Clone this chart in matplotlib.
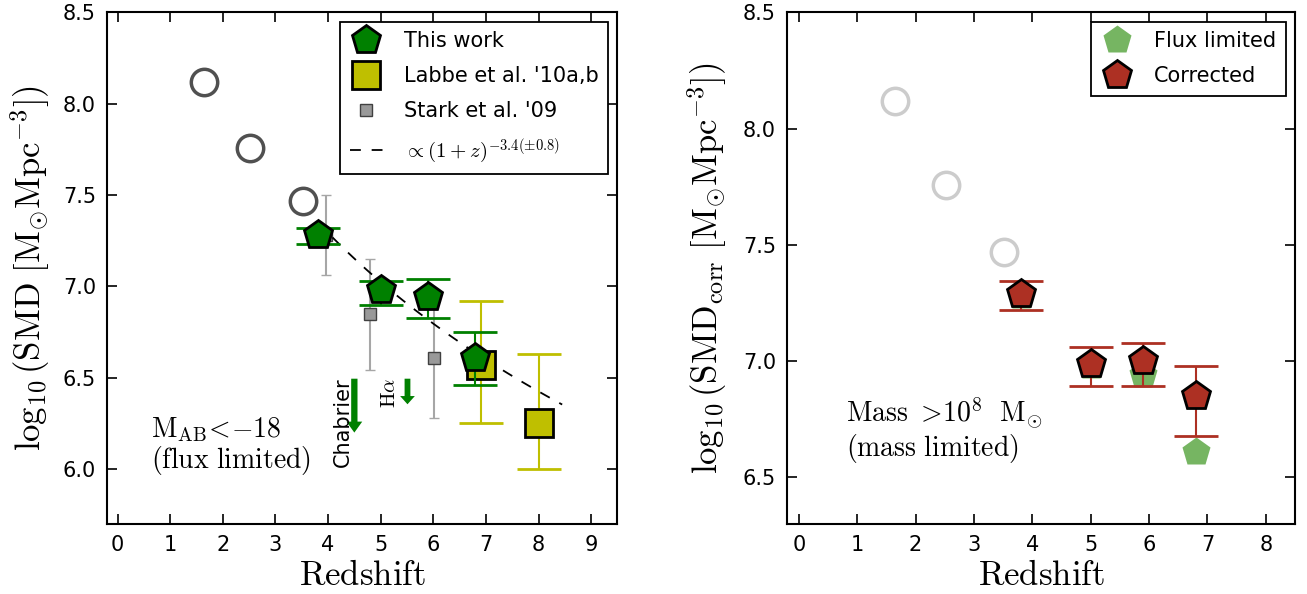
import numpy as np
import matplotlib
matplotlib.use("Agg")
import matplotlib.pyplot as plt
from matplotlib.lines import Line2D

plt.rcParams['mathtext.fontset'] = 'cm'
plt.rcParams['font.family'] = ['DejaVu Sans']

# open circles (lower-z literature)
lowz_z = [1.65, 2.52, 3.52]
lowz_smd = [8.12, 7.76, 7.47]

# this work (flux limited)
tw_z = [3.8, 5.0, 5.9, 6.8]
tw_smd = [7.28, 6.98, 6.94, 6.61]
tw_lo = [0.05, 0.08, 0.11, 0.15]
tw_hi = [0.04, 0.05, 0.10, 0.14]

# Labbe et al. '10a,b
lab_z = [6.9, 8.0]
lab_smd = [6.57, 6.25]
lab_lo = [0.32, 0.25]
lab_hi = [0.35, 0.38]

# Stark et al. '09
st_z = [3.97, 4.8, 6.02]
st_smd = [7.28, 6.85, 6.61]
st_lo = [0.22, 0.31, 0.33]
st_hi = [0.22, 0.30, 0.33]

# power-law fit  SMD ~ (1+z)^-3.4
fit_norm = 9.67
fit_slope = -3.4
fit_zrange = [3.8, 8.45]

# mass limited (corrected)
cor_z = [3.8, 5.0, 5.9, 6.8]
cor_smd = [7.29, 6.99, 7.0, 6.85]
cor_lo = [0.07, 0.095, 0.105, 0.17]
cor_hi = [0.055, 0.07, 0.08, 0.13]

green = '#008000'
yellow = '#bfbf00'
red = '#ad3023'
lgreen = '#76b562'

fig = plt.figure(figsize=(13.07, 5.94), dpi=100)
ax1 = fig.add_axes([0.0819, 0.118, 0.3905, 0.861])
ax2 = fig.add_axes([0.6022, 0.118, 0.3886, 0.861])

for ax in (ax1, ax2):
    ax.tick_params(direction='in', top=True, right=True, length=7, width=1.2,
                   labelsize=15, pad=8)
    for sp in ax.spines.values():
        sp.set_linewidth(1.5)

leg_kw = dict(loc='upper right', numpoints=1, fontsize=15, handlelength=1.6,
              borderaxespad=0.45, fancybox=False, edgecolor='k', framealpha=1,
              labelspacing=0.72, handletextpad=1.0, borderpad=0.45)

# ---- left panel ----
ax1.plot(lowz_z, lowz_smd, 'o', ms=19, mfc='none', mec='#505050', mew=2.5)
zz = np.linspace(fit_zrange[0], fit_zrange[1], 50)
ax1.plot(zz, fit_norm + fit_slope * np.log10(1 + zz), color='k', lw=1.3,
         dashes=(6, 6), zorder=4)
ax1.errorbar(st_z, st_smd, yerr=[st_lo, st_hi], fmt='s', ms=8, mfc='0.6',
             mec='0.25', mew=1, ecolor='0.65', elinewidth=1.5, capsize=3.5,
             capthick=1.5, zorder=3)
ax1.errorbar(lab_z, lab_smd, yerr=[lab_lo, lab_hi], fmt='s', ms=20, mfc=yellow,
             mec='k', mew=2, ecolor=yellow, elinewidth=1.5, capsize=16,
             capthick=2, zorder=5)
ax1.errorbar(tw_z, tw_smd, yerr=[tw_lo, tw_hi], fmt='p', ms=21, mfc=green,
             mec='k', mew=2, ecolor=green, elinewidth=1.5, capsize=16,
             capthick=2, zorder=6)

ax1.arrow(4.5, 6.495, 0, -0.295, width=0.12, head_width=0.3, head_length=0.06,
          length_includes_head=True, fc=green, ec='none')
ax1.arrow(5.51, 6.495, 0, -0.14, width=0.11, head_width=0.28, head_length=0.045,
          length_includes_head=True, fc=green, ec='none')
ax1.text(4.29, 6.5, 'Chabrier', rotation=90, ha='center', va='top', fontsize=15)
ax1.text(5.16, 6.5, r'$\mathrm{H}\alpha$', rotation=90, ha='center', va='top',
         fontsize=15)
ax1.text(0.63, 6.175, r'$\mathrm{M_{AB}}\!<\!{-18}$', fontsize=20, va='baseline')
ax1.text(0.63, 6.005, r'$\mathrm{(flux\ limited)}$', fontsize=20, va='baseline')

h1 = [Line2D([], [], ls='none', marker='p', ms=21, mfc=green, mec='k', mew=2),
      Line2D([], [], ls='none', marker='s', ms=20, mfc=yellow, mec='k', mew=2),
      Line2D([], [], ls='none', marker='s', ms=8, mfc='0.6', mec='0.25', mew=1),
      Line2D([], [], color='k', lw=1.3, dashes=(6, 6))]
l1 = ['This work', "Labbe et al. '10a,b", "Stark et al. '09",
      r'$\propto(1+z)^{-3.4(\pm0.8)}$']
ax1.legend(h1, l1, **leg_kw).get_frame().set_linewidth(1.3)

ax1.set_xlim(-0.2, 9.5)
ax1.set_ylim(5.7, 8.5)
ax1.set_xticks(range(0, 10))
ax1.set_yticks([6.0, 6.5, 7.0, 7.5, 8.0, 8.5])
ax1.set_xlabel(r'$\mathrm{Redshift}$', fontsize=25, labelpad=2)
ax1.set_ylabel(r'$\log_{10}(\mathrm{SMD}\ [\mathrm{M}_{\odot}\mathrm{Mpc}^{-3}])$',
               fontsize=25, labelpad=8)

# ---- right panel ----
ax2.plot(lowz_z, lowz_smd, 'o', ms=19, mfc='none', mec='0.8', mew=2.5)
ax2.plot(tw_z, tw_smd, 'p', ms=21, mfc=lgreen, mec='none', zorder=3)
ax2.errorbar(cor_z, cor_smd, yerr=[cor_lo, cor_hi], fmt='p', ms=21, mfc=red,
             mec='k', mew=2, ecolor=red, elinewidth=1.5, capsize=16,
             capthick=2, zorder=4)
ax2.text(0.81, 6.737, r'$\mathrm{Mass}\ >\!10^8\ \ \mathrm{M}_{\odot}$',
         fontsize=20, va='baseline')
ax2.text(0.81, 6.594, r'$\mathrm{(mass\ limited)}$', fontsize=20, va='baseline')
h2 = [Line2D([], [], ls='none', marker='p', ms=21, mfc=lgreen, mec='none'),
      Line2D([], [], ls='none', marker='p', ms=21, mfc=red, mec='k', mew=2)]
ax2.legend(h2, ['Flux limited', 'Corrected'], **leg_kw).get_frame().set_linewidth(1.3)

ax2.set_xlim(-0.2, 8.5)
ax2.set_ylim(6.3, 8.5)
ax2.set_xticks(range(0, 9))
ax2.set_yticks([6.5, 7.0, 7.5, 8.0, 8.5])
ax2.set_xlabel(r'$\mathrm{Redshift}$', fontsize=25, labelpad=2)
ax2.set_ylabel(r'$\log_{10}(\mathrm{SMD_{corr}}\ [\mathrm{M}_{\odot}\mathrm{Mpc}^{-3}])$',
               fontsize=25, labelpad=10)

fig.savefig('out.png', dpi=100)
